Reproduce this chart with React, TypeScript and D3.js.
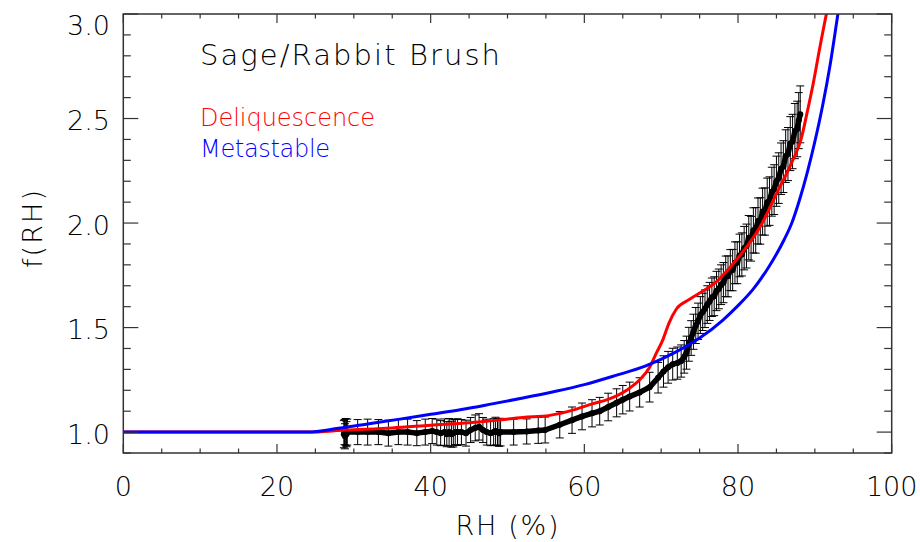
import React from 'react';
import * as d3 from 'd3';

const W = 920;
const H = 542;

const xTicks = [0, 20, 40, 60, 80, 100];
const yTicks = [1.0, 1.5, 2.0, 2.5, 3.0];

const deliqRH = [0, 24, 29, 35, 40, 45, 48.6, 52, 55.5, 58.5, 61, 63, 65.5, 67.2, 68.5, 69.4, 70.2, 71, 72, 73.7, 75, 77.2, 79, 81.4, 83, 85, 87, 88.2, 89, 89.8, 90.6, 91.5, 92.2];
const deliqF = [1.0, 1.0, 1.01, 1.02, 1.033, 1.045, 1.057, 1.07, 1.08, 1.105, 1.135, 1.155, 1.2, 1.25, 1.31, 1.38, 1.44, 1.52, 1.59, 1.635, 1.665, 1.72, 1.79, 1.9, 1.99, 2.14, 2.29, 2.4, 2.53, 2.67, 2.83, 3.0, 3.12];

const metaRH = [0, 24, 28, 32, 36, 40, 44, 48, 52, 56, 60, 64, 68, 72, 75, 78, 80, 82, 84, 86, 87, 88, 89, 90, 91, 92, 93, 93.5];
const metaF = [1.0, 1.0, 1.018, 1.04, 1.062, 1.085, 1.108, 1.135, 1.163, 1.193, 1.227, 1.27, 1.317, 1.385, 1.45, 1.535, 1.605, 1.685, 1.79, 1.92, 2.0, 2.11, 2.24, 2.39, 2.56, 2.76, 3.0, 3.12];

// [RH, f(RH), error]
const measured: [number, number, number][] = [
  [28.7, 0.99, 0.065], [28.8, 1.0, 0.06], [28.85, 0.98, 0.06], [28.95, 1.0, 0.065], [29.05, 0.99, 0.06], [29.15, 1.0, 0.062],
  [30.5, 1.0, 0.06], [31.8, 1.0, 0.062], [33.2, 1.0, 0.06], [34.5, 0.995, 0.062], [35.8, 1.0, 0.06], [37.0, 1.0, 0.062],
  [38.2, 0.995, 0.06], [39.3, 1.0, 0.062], [40.2, 1.005, 0.06], [40.8, 1.0, 0.062], [41.3, 0.995, 0.06], [41.8, 1.0, 0.063],
  [42.1, 0.99, 0.06], [42.4, 1.0, 0.065], [42.7, 0.99, 0.062], [42.95, 0.995, 0.066], [43.2, 1.0, 0.06], [43.5, 1.0, 0.064],
  [44.0, 1.0, 0.06], [44.6, 0.995, 0.062], [45.2, 1.01, 0.06], [45.8, 1.02, 0.062], [46.3, 1.025, 0.063], [46.8, 1.01, 0.06],
  [47.3, 1.0, 0.062], [47.8, 0.995, 0.06], [48.2, 1.0, 0.064], [48.45, 1.005, 0.066], [48.7, 1.0, 0.065], [48.9, 0.995, 0.063],
  [49.1, 1.0, 0.066], [50.8, 1.0, 0.062], [52.5, 1.003, 0.06], [54.0, 1.008, 0.062], [54.9, 1.01, 0.062], [56.8, 1.035, 0.063],
  [58.4, 1.057, 0.063], [59.7, 1.075, 0.064], [61.0, 1.09, 0.065], [62.0, 1.10, 0.066], [63.1, 1.12, 0.066], [64.2, 1.14, 0.067],
  [65.0, 1.155, 0.068], [65.9, 1.17, 0.069], [67.2, 1.19, 0.07], [68.5, 1.215, 0.071], [69.6, 1.26, 0.073], [70.3, 1.29, 0.075],
  [70.9, 1.31, 0.076], [71.5, 1.325, 0.076], [72.1, 1.33, 0.077], [72.6, 1.34, 0.077], [73.0, 1.36, 0.078], [73.3, 1.38, 0.079],
  [73.6, 1.42, 0.081], [73.9, 1.45, 0.083], [74.2, 1.48, 0.084], [74.5, 1.51, 0.086], [74.8, 1.53, 0.087], [75.1, 1.56, 0.088],
  [75.4, 1.575, 0.089], [75.7, 1.59, 0.09], [76.0, 1.61, 0.09], [76.3, 1.625, 0.091], [76.6, 1.645, 0.092], [76.9, 1.65, 0.093],
  [77.2, 1.675, 0.094], [77.5, 1.685, 0.095], [77.8, 1.705, 0.095], [78.1, 1.715, 0.096], [78.4, 1.745, 0.097], [78.7, 1.745, 0.098],
  [79.0, 1.775, 0.098], [79.3, 1.775, 0.099], [79.6, 1.81, 0.1], [79.9, 1.81, 0.1], [80.2, 1.845, 0.102], [80.5, 1.85, 0.103],
  [80.8, 1.88, 0.104], [81.1, 1.89, 0.105], [81.4, 1.93, 0.106], [81.7, 1.925, 0.107], [82.0, 1.965, 0.108], [82.3, 1.965, 0.109],
  [82.6, 2.01, 0.11], [82.9, 2.01, 0.111], [83.2, 2.055, 0.112], [83.5, 2.055, 0.113], [83.8, 2.1, 0.115], [84.1, 2.105, 0.116],
  [84.4, 2.15, 0.117], [84.7, 2.16, 0.119], [85.0, 2.2, 0.12], [85.3, 2.215, 0.121], [85.6, 2.26, 0.123], [85.9, 2.27, 0.124],
  [86.2, 2.32, 0.126], [86.5, 2.33, 0.127], [86.8, 2.38, 0.129], [87.1, 2.39, 0.13], [87.4, 2.44, 0.132], [87.7, 2.45, 0.133],
  [87.9, 2.49, 0.134], [88.1, 2.52, 0.136],
];

const FONT = '"DejaVu Sans", "Liberation Sans", sans-serif';

export default function App() {
  const left = 123.3, right = 891.7, top = 14, bottom = 453;
  const x = d3.scaleLinear().domain([0, 100]).range([left, right]);
  const y = d3.scaleLinear().domain([0.9, 3.0]).range([bottom, top]);

  const curve = d3.line<[number, number]>().x(d => x(d[0])).y(d => y(d[1])).curve(d3.curveMonotoneX);
  const redPath = curve(deliqRH.map((r, i) => [r, deliqF[i]] as [number, number])) || '';
  const bluePath = curve(metaRH.map((r, i) => [r, metaF[i]] as [number, number])) || '';
  const obsLine = d3.line<[number, number, number]>().x(d => x(d[0])).y(d => y(d[1]));
  const blackPath = obsLine(measured) || '';

  const xMinor = d3.range(0, 100.01, 5);
  const yMinor = d3.range(0.9, 3.0001, 0.1);
  const xMajLen = 9, xMinLen = 4.5, yMajLen = 15, yMinLen = 7.5;
  const axisColor = '#333';
  const capHalf = 4;
  const txt = '#000';

  return (
    <svg width={W} height={H} style={{ position: 'absolute', left: 0, top: 0, background: '#fff' }} fontFamily={FONT} fontWeight={200}>
      <defs>
        <clipPath id="plot">
          <rect x={left} y={top} width={right - left} height={bottom - top} />
        </clipPath>
      </defs>
      <rect width={W} height={H} fill="#fff" />

      <g clipPath="url(#plot)">
        {measured.map((d, i) => (
          <g key={i} stroke="#000" strokeWidth={1}>
            <line x1={x(d[0])} x2={x(d[0])} y1={y(d[1] - d[2])} y2={y(d[1] + d[2])} />
            <line x1={x(d[0]) - capHalf} x2={x(d[0]) + capHalf} y1={y(d[1] + d[2])} y2={y(d[1] + d[2])} />
            <line x1={x(d[0]) - capHalf} x2={x(d[0]) + capHalf} y1={y(d[1] - d[2])} y2={y(d[1] - d[2])} />
          </g>
        ))}
        <path d={blackPath} fill="none" stroke="#000" strokeWidth={5.5} strokeLinejoin="round" strokeLinecap="round" />
        {measured.map((d, i) => (
          <circle key={'m' + i} cx={x(d[0])} cy={y(d[1])} r={3} fill="#000" />
        ))}
        <path d={redPath} fill="none" stroke="#ff0000" strokeWidth={3} />
        <path d={bluePath} fill="none" stroke="#0000ff" strokeWidth={3} />
      </g>

      <rect x={left} y={top} width={right - left} height={bottom - top} fill="none" stroke={axisColor} strokeWidth={1.5} />

      {xMinor.map((t, i) => {
        const major = xTicks.includes(Math.round(t));
        const len = major ? xMajLen : xMinLen;
        return (
          <g key={'xt' + i} stroke={axisColor} strokeWidth={1.2}>
            <line x1={x(t)} x2={x(t)} y1={bottom} y2={bottom - len} />
            <line x1={x(t)} x2={x(t)} y1={top} y2={top + len} />
          </g>
        );
      })}
      {yMinor.map((t, i) => {
        const major = yTicks.some(v => Math.abs(v - t) < 1e-6);
        const len = major ? yMajLen : yMinLen;
        return (
          <g key={'yt' + i} stroke={axisColor} strokeWidth={1.2}>
            <line x1={left} x2={left + len} y1={y(t)} y2={y(t)} />
            <line x1={right} x2={right - len} y1={y(t)} y2={y(t)} />
          </g>
        );
      })}

      {xTicks.map(t => (
        <text key={'xl' + t} x={x(t)} y={496} textAnchor="middle" fontSize={27} fill={txt}>{t}</text>
      ))}
      {yTicks.map(t => (
        <text key={'yl' + t} x={110} y={Math.max(y(t), 23.5) + 11.5} textAnchor="end" fontSize={27} fill={txt}>{t.toFixed(1)}</text>
      ))}

      <text x={507} y={535} textAnchor="middle" fontSize={27} fill={txt} textLength={103} lengthAdjust="spacing">RH (%)</text>
      <text transform={`translate(42, 229) rotate(-90)`} textAnchor="middle" fontSize={27} fill={txt} textLength={78} lengthAdjust="spacing">f(RH)</text>

      <text x={200} y={65} fontSize={29} fill={txt} textLength={300} lengthAdjust="spacing">Sage/Rabbit Brush</text>
      <text x={200} y={126} fontSize={24} fill="#ff0000" textLength={175} lengthAdjust="spacing">Deliquescence</text>
      <text x={200} y={157} fontSize={24} fill="#0000ff" textLength={130} lengthAdjust="spacing">Metastable</text>
    </svg>
  );
}
